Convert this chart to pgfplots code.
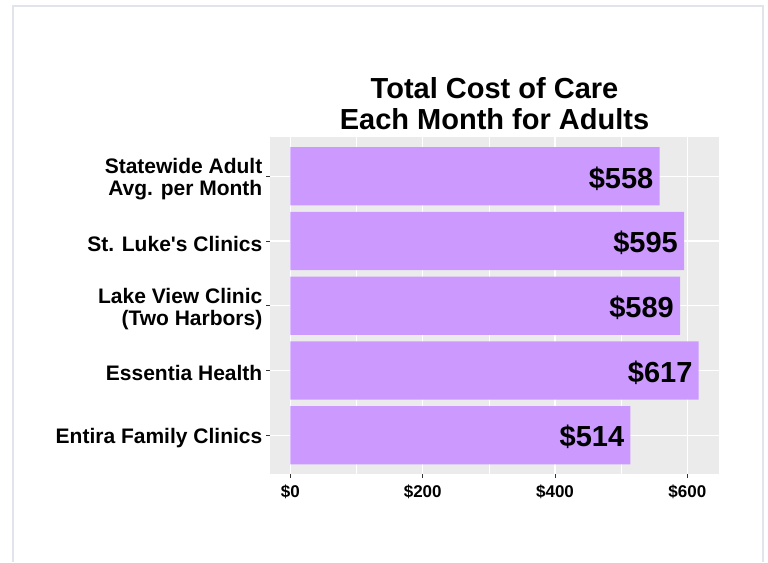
\documentclass[border=0pt]{standalone}
\usepackage{fontspec}
\setmainfont{Liberation Sans}
\usepackage{pgfplots}
\pgfplotsset{compat=1.18}

\definecolor{panelgrey}{HTML}{EBEBEB}
\definecolor{lilac}{HTML}{CC99FF}
\definecolor{framegrey}{HTML}{E1E4EA}
\definecolor{tickgrey}{HTML}{333333}

\begin{document}
\begin{tikzpicture}
  \path[use as bounding box] (0pt,0pt) rectangle (768pt,562pt);
  % slide frame
  \draw[framegrey, line width=2pt] (13pt,0pt) -- (13pt,556pt) -- (763pt,556pt) -- (763pt,0pt);

  \begin{axis}[
      at={(270pt,88pt)}, anchor=south west,
      width=449pt, height=336.5pt, scale only axis,
      xbar, bar width=0.9, bar shift=0pt,
      xmin=-30.85, xmax=647.85,
      ymin=0.4, ymax=5.6,
      axis background/.style={fill=panelgrey},
      axis line style={draw=none},
      xtick={0,200,400,600},
      xticklabels={\$0,\$200,\$400,\$600},
      minor xtick={100,300,500},
      ytick={1,2,3,4,5},
      yticklabels={{Entira Family Clinics},{Essentia Health},{Lake View Clinic\\(Two Harbors)},{St. Luke\textquotesingle s Clinics},{Statewide Adult\\Avg. per Month}},
      xmajorgrids, xminorgrids, ymajorgrids,
      major grid style={white, line width=1.1pt},
      minor grid style={white, line width=0.55pt},
      tick align=outside, tick pos=left,
      major tick length=4pt, minor tick length=0pt,
      tick style={tickgrey, line width=0.8pt},
      xticklabel style={font=\fontsize{17}{18}\selectfont\bfseries, inner sep=0pt, yshift=-7pt},
      yticklabel style={font=\fontsize{21}{22}\selectfont\bfseries, align=right, inner sep=0pt, xshift=-3.5pt, yshift=-3pt},
      point meta=explicit symbolic,
      nodes near coords={\$\pgfplotspointmeta},
      nodes near coords style={anchor=east, inner sep=0pt, xshift=-6pt, yshift=-2pt,
        font=\fontsize{29}{30}\selectfont\bfseries, black},
    ]
    \addplot[fill=lilac, draw=none] coordinates {
      (514,1) [514]
      (617,2) [617]
      (589,3) [589]
      (595,4) [595]
      (558,5) [558]
    };
  \end{axis}

  \node[anchor=base, font=\fontsize{29}{31}\selectfont\bfseries] at (494.5pt,463pt) {Total Cost of Care};
  \node[anchor=base, font=\fontsize{29}{31}\selectfont\bfseries] at (494.5pt,432pt) {Each Month for Adults};
\end{tikzpicture}
\end{document}
